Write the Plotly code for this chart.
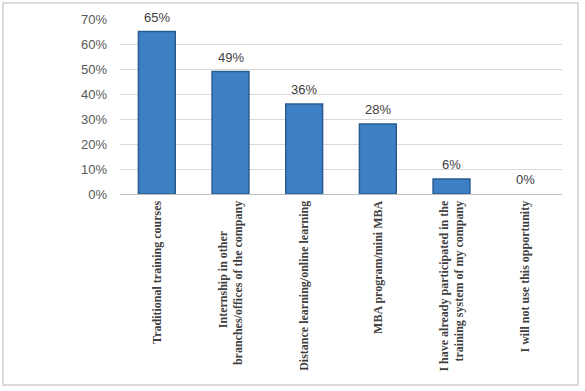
import plotly.graph_objects as go

categories = [
    "Traditional training courses",
    "Internship in other" + "\u00a0" * 10 + "<br>branches/offices of the company",
    "Distance learning/online learning",
    "MBA program/mini MBA",
    "I have already participated in the<br>training system of my company",
    "I will not use this opportunity",
]
values = [65, 49, 36, 28, 6, 0]
tick_vals = [0, 10, 20, 30, 40, 50, 60, 70]
tick_text = ["0%", "10%", "20%", "30%", "40%", "50%", "60%", "70%"]

W, H = 585, 391
L, R, T, B = 120, 23, 19, 197

fig = go.Figure()
fig.add_trace(go.Bar(
    x=list(range(len(categories))),
    y=values,
    width=0.5,
    marker=dict(color="#3d80c6",
                line=dict(color="#2a5b8e", width=[1.5 if v > 0 else 0 for v in values])),
    hoverinfo="skip",
))

for i, v in enumerate(values):
    fig.add_annotation(x=i, y=v, xref="x", yref="y", text=f"{v}%",
                       showarrow=False, yanchor="bottom", yshift=5,
                       font=dict(family="Liberation Sans", size=13, color="#404040"))

pw = W - L - R
ph = H - T - B
fig.add_shape(type="rect", xref="paper", yref="paper",
              x0=(3 - L) / pw, x1=(578 - L) / pw,
              y0=(H - B - 385) / ph, y1=(H - B - 3) / ph,
              line=dict(color="#d0d0d0", width=1.5), fillcolor="rgba(0,0,0,0)", layer="below")

fig.update_layout(
    width=W, height=H,
    margin=dict(l=L, r=R, t=T, b=B, pad=0),
    paper_bgcolor="white", plot_bgcolor="white",
    showlegend=False,
    xaxis=dict(
        tickmode="array",
        tickvals=list(range(len(categories))),
        ticktext=categories,
        range=[-0.5, len(categories) - 0.5],
        tickangle=-90,
        tickfont=dict(family="Liberation Serif", size=12, color="#404040", weight="bold"),
        showline=True, linecolor="#bfbfbf", linewidth=1,
        ticks="", showgrid=False, zeroline=False,
        ticklabelstandoff=1,
    ),
    yaxis=dict(
        range=[0, 70],
        tickmode="array",
        tickvals=tick_vals,
        ticktext=tick_text,
        tickfont=dict(family="Liberation Sans", size=13, color="#595959"),
        showgrid=True, gridcolor="#d9d9d9", gridwidth=1,
        zeroline=False, showline=False, ticks="",
        ticklabelstandoff=12,
    ),
)

fig.write_html("out.html", config={"displayModeBar": False},
               post_script="document.body.style.margin='0';document.body.style.overflow='hidden';")
